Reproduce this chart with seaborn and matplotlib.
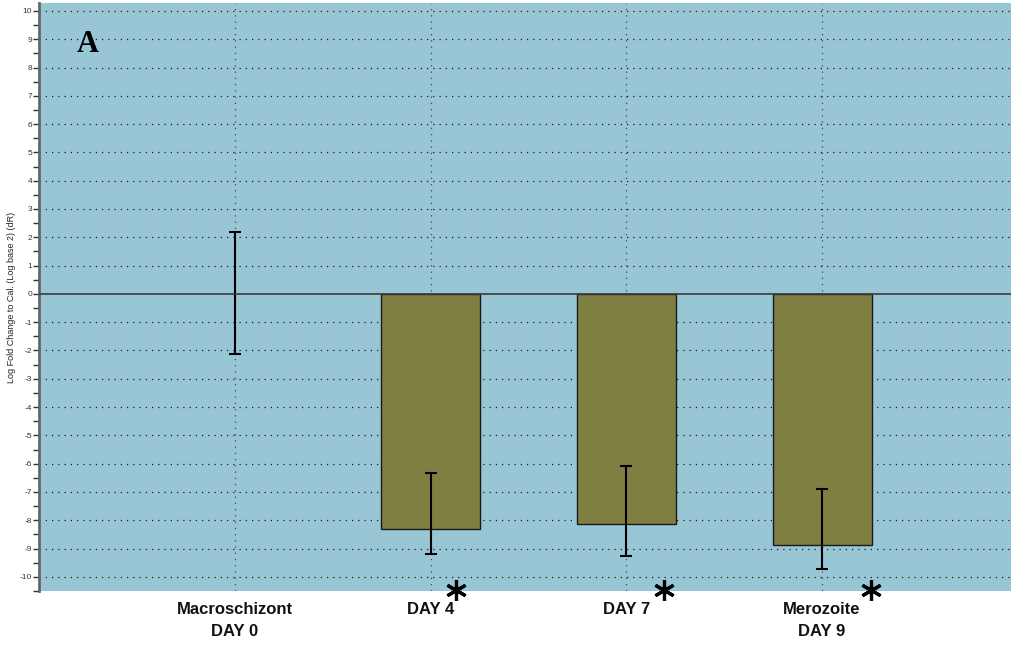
import matplotlib
matplotlib.use("Agg")
import matplotlib.pyplot as plt
import seaborn as sns
import pandas as pd
import numpy as np

# Stage labels and log2 fold change values (dR)
stages = ["Macroschizont\nDAY 0", "DAY 4", "DAY 7", "Merozoite\nDAY 9"]
log_fold = [0.0, -8.30, -8.13, -8.86]
err_upper = [2.17, -6.33, -6.09, -6.90]
err_lower = [-2.14, -9.21, -9.25, -9.74]
significant = [False, True, True, True]
y_ticks = list(range(-10, 11))

df = pd.DataFrame({"stage": stages, "value": log_fold})

sns.set_theme(style="white")
plt.rcParams["font.family"] = ["Liberation Sans", "DejaVu Sans"]

fig = plt.figure(figsize=(10.12, 6.48), dpi=100)
ax = fig.add_axes([39 / 1012, 1 - 591 / 648, 1 - 39 / 1012, (591 - 3) / 648])
ax.set_facecolor("#99c6d4")

sns.barplot(data=df, x="stage", y="value", color="#7f7f41", width=0.505,
            saturation=1, edgecolor="#1a1a1a", linewidth=1.0, errorbar=None,
            ax=ax, zorder=3)
# a zero-height bar should leave no outline
for patch, v in zip(ax.patches, log_fold):
    if v == 0:
        patch.set_linewidth(0)

vals = np.array(log_fold)
lo = vals - np.array(err_lower)
hi = np.array(err_upper) - vals
ax.errorbar(np.arange(len(stages)), vals, yerr=[lo, hi], fmt="none",
            ecolor="black", elinewidth=1.5, capsize=4, capthick=1.5, zorder=4)

# significance markers (six-armed asterisks just below the plot floor)
star_offsets = [0, 0.13, 0.19, 0.25]
for i, sig in enumerate(significant):
    if sig:
        ax.plot(i + star_offsets[i], -10.45, marker=(6, 2, 0), markersize=15,
                markeredgewidth=2.3, color="black", zorder=6, clip_on=False)

ax.set_xlim(-1.0, 3.97)
ax.set_ylim(-10.35, 10.28)

ax.set_yticks(y_ticks)
ax.set_yticks(np.arange(-10.5, 10.5, 1.0), minor=True)
ax.set_yticklabels([str(t) for t in y_ticks], fontsize=6, color="#333333")
ax.tick_params(axis="y", which="major", length=4, width=1, color="#333333",
               left=True, pad=1)
ax.tick_params(axis="y", which="minor", length=4, width=1, color="#333333",
               left=True)

ax.set_xticks(range(len(stages)))
ax.set_xticklabels(stages, fontsize=12, fontweight="bold", color="#111111",
                   linespacing=1.55)
ax.tick_params(axis="x", length=0, pad=8)
ax.set_xlabel("")
ax.set_ylabel("Log Fold Change to Cal. (Log base 2) (dR)", fontsize=6.5,
              color="#222222", labelpad=3)

# dotted grid
for t in y_ticks:
    if t != 0:
        ax.axhline(t, color="#1a1a1a", linestyle=(0, (1, 4)), linewidth=0.9,
                   zorder=1)
for i in range(len(stages)):
    ax.axvline(i, color="#3a4a55", linestyle=(0, (1, 4)), linewidth=0.9,
               zorder=1)
ax.axhline(0, color="#3a3a3a", linewidth=1.2, zorder=5)

for side in ["top", "right", "bottom"]:
    ax.spines[side].set_visible(False)
ax.spines["left"].set_color("#666666")
ax.spines["left"].set_linewidth(2)

ax.text(0.05, 0.929, "A", transform=ax.transAxes, fontsize=22,
        fontweight="bold", family=["Liberation Serif", "DejaVu Serif"],
        color="black", ha="center", va="center")

fig.savefig("out.png", dpi=100, facecolor="white")
